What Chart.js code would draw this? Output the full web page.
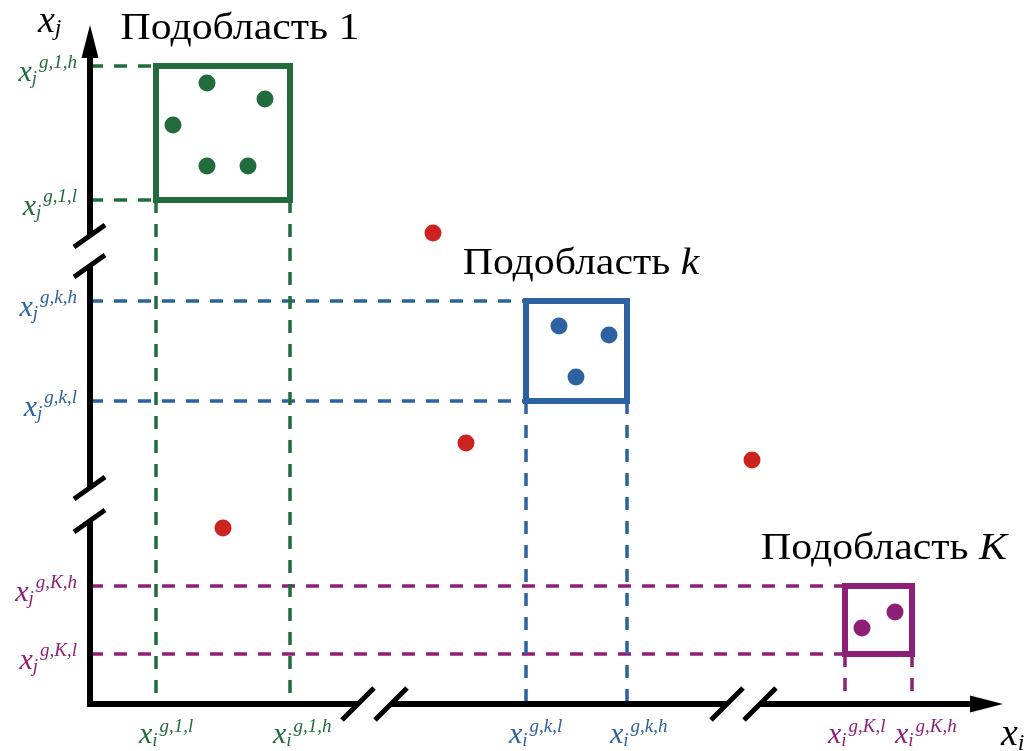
<!DOCTYPE html>
<html><head><meta charset="utf-8">
<script src="https://cdn.jsdelivr.net/npm/chart.js@4.4.1/dist/chart.umd.min.js"></script>
<style>html,body{margin:0;padding:0;background:#fff;}canvas{display:block;}</style>
</head><body>
<canvas id="c" width="1035" height="751"></canvas>
<script>
// ---------------- data (diagram units; origin = axis corner) ----------------
const titleWord   = 'Подобласть';
const regionNames = ['1', 'k', 'K'];
const boxXLow  = [6.6, 43.6, 75.5];
const boxXHigh = [20.0, 53.7, 82.2];
const boxYLow  = [50.4, 30.3, 5.0];
const boxYHigh = [63.8, 40.3, 11.8];
const region1X = [11.7, 17.5, 8.3, 11.7, 15.8];
const region1Y = [62.1, 60.5, 57.9, 53.8, 53.8];
const regionkX = [46.9, 51.9, 48.6];
const regionkY = [37.8, 36.9, 32.7];
const regionKX = [77.2, 80.5];
const regionKY = [7.6, 9.2];
const outlierX = [34.3, 37.6, 66.2, 13.3];
const outlierY = [47.1, 26.1, 24.4, 17.6];
const xTickSupLow  = ['g,1,l', 'g,k,l', 'g,K,l'];
const xTickSupHigh = ['g,1,h', 'g,k,h', 'g,K,h'];
const yTickSupLow  = ['g,1,l', 'g,k,l', 'g,K,l'];
const yTickSupHigh = ['g,1,h', 'g,k,h', 'g,K,h'];
const xAxisBreaks = [28.45, 65.35];
const yAxisBreaks = [45.3, 19.95];
const xAxisEnd = 91.3;
const yAxisEnd = 67.9;
const xAxisName = ['x', 'i'];
const yAxisName = ['x', 'j'];

// ---------------- styles ----------------
const regionColors = ['#226b3c', '#2d62a0', '#8e1f77'];
const outlierColor = '#cc2320';
const FONT = '"Liberation Serif", "Times New Roman", serif';
const titleDx = [17, 4.5, 5.5];
const titleStretch = 1.1;
const titleSize = 38;

const regionPts = [[region1X, region1Y], [regionkX, regionkY], [regionKX, regionKY]];
const datasets = [];
datasets.push({
  data: outlierX.map((x, i) => ({x, y: outlierY[i]})),
  backgroundColor: outlierColor, pointRadius: 8.5, pointBorderWidth: 0, showLine: false, order: 0
});
regionNames.forEach((n, r) => {
  const c = regionColors[r];
  const [px, py] = regionPts[r];
  datasets.push({
    data: px.map((x, i) => ({x, y: py[i]})),
    backgroundColor: c, pointRadius: 8.5, pointBorderWidth: 0, showLine: false, order: 0
  });
  const xl = boxXLow[r], xh = boxXHigh[r], yl = boxYLow[r], yh = boxYHigh[r];
  datasets.push({
    data: [{x: xl, y: yl}, {x: xl, y: yh}, {x: xh, y: yh}, {x: xh, y: yl}, {x: xl, y: yl}],
    showLine: true, borderColor: c, borderWidth: 6, pointRadius: 0, fill: false,
    borderCapStyle: 'square', borderJoinStyle: 'miter', tension: 0, order: 1
  });
  const dash = {showLine: true, borderColor: c, borderWidth: 3.5, pointRadius: 0, fill: false,
    borderDash: [13, 11], borderCapStyle: 'butt', tension: 0, order: 3};
  [yl, yh].forEach(y => datasets.push(Object.assign({data: [{x: 0, y}, {x: xl, y}]}, dash)));
  [xl, xh].forEach(x => datasets.push(Object.assign({data: [{x, y: yl}, {x, y: 0}]}, dash)));
});

function mathLabel(ctx, left, base, parts, color) {
  const [main, sub, sup, mainSize, subSize, subDy, supDy] = parts;
  ctx.fillStyle = color;
  ctx.textAlign = 'left';
  ctx.textBaseline = 'alphabetic';
  ctx.font = `italic ${mainSize}px ${FONT}`;
  ctx.fillText(main, left, base);
  let x = left + ctx.measureText(main).width;
  ctx.font = `italic ${subSize}px ${FONT}`;
  ctx.fillText(sub, x, base + subDy);
  x += ctx.measureText(sub).width + 2;
  if (sup) ctx.fillText(sup, x, base + supDy);
}
function labelWidth(ctx, parts) {
  const [main, sub, sup, mainSize, subSize] = parts;
  ctx.font = `italic ${mainSize}px ${FONT}`;
  let w = ctx.measureText(main).width;
  ctx.font = `italic ${subSize}px ${FONT}`;
  w += ctx.measureText(sub).width + 2 + (sup ? ctx.measureText(sup).width : 0);
  return w;
}

const diagramPlugin = {
  id: 'diagram',
  afterDatasetsDraw(chart) {
    const ctx = chart.ctx, X = chart.scales.x, Y = chart.scales.y;
    const ox = X.getPixelForValue(0), oy = Y.getPixelForValue(0);
    const xEnd = X.getPixelForValue(xAxisEnd), yEnd = Y.getPixelForValue(yAxisEnd);
    const gap = 16.5;
    ctx.save();
    ctx.strokeStyle = '#000'; ctx.fillStyle = '#000';
    ctx.lineWidth = 6; ctx.lineJoin = 'miter'; ctx.lineCap = 'butt';
    const xb = xAxisBreaks.map(v => X.getPixelForValue(v));
    const yb = yAxisBreaks.map(v => Y.getPixelForValue(v));
    ctx.beginPath();
    ctx.moveTo(ox, yEnd + 25); ctx.lineTo(ox, yb[0] - 15);
    ctx.moveTo(ox, yb[0] + 15); ctx.lineTo(ox, yb[1] - 16.5);
    ctx.moveTo(ox, yb[1] + 16.5); ctx.lineTo(ox, oy); ctx.lineTo(xb[0] - gap, oy);
    ctx.moveTo(xb[0] + gap, oy); ctx.lineTo(xb[1] - gap, oy);
    ctx.moveTo(xb[1] + gap, oy); ctx.lineTo(xEnd - 25, oy);
    ctx.stroke();
    // arrows
    ctx.beginPath();
    ctx.moveTo(ox, yEnd); ctx.lineTo(ox - 8.5, yEnd + 33); ctx.lineTo(ox + 8.5, yEnd + 33); ctx.closePath();
    ctx.moveTo(xEnd, oy); ctx.lineTo(xEnd - 33, oy - 8.5); ctx.lineTo(xEnd - 33, oy + 8.5); ctx.closePath();
    ctx.fill();
    // break slashes
    ctx.lineWidth = 5;
    ctx.beginPath();
    xb.forEach(c => {
      [c - gap, c + gap].forEach(cx => { ctx.moveTo(cx - 16, oy + 16); ctx.lineTo(cx + 16, oy - 16); });
    });
    yb.forEach((c, i) => {
      const g = i === 0 ? 15 : 16.5;
      [c - g, c + g].forEach(cy => { ctx.moveTo(ox - 16, cy + 11); ctx.lineTo(ox + 15, cy - 11); });
    });
    ctx.stroke();

    // axis names
    mathLabel(ctx, ox - 52, yEnd + 7, [yAxisName[0], yAxisName[1], '', 38, 24, 3, 0], '#000');
    mathLabel(ctx, xEnd - 2, oy + 41, [xAxisName[0], xAxisName[1], '', 38, 24, 5, 0], '#000');

    regionNames.forEach((n, r) => {
      const c = regionColors[r];
      [[boxXLow[r], xTickSupLow[r]], [boxXHigh[r], xTickSupHigh[r]]].forEach(([v, s]) => {
        const px = X.getPixelForValue(v);
        mathLabel(ctx, px - 17, oy + 39, ['x', 'i', s, 30, 19, 3, -11], c);
      });
      [[boxYLow[r], yTickSupLow[r]], [boxYHigh[r], yTickSupHigh[r]]].forEach(([v, s]) => {
        const py = Y.getPixelForValue(v);
        const parts = ['x', 'j', s, 30, 19, 3, -13];
        const w = labelWidth(ctx, parts);
        mathLabel(ctx, ox - 13 - w, py + 15, parts, c);
      });
      // titles
      ctx.fillStyle = '#000';
      ctx.textBaseline = 'alphabetic'; ctx.textAlign = 'left';
      const isLetter = /[a-zA-Z]/.test(n);
      ctx.font = `${titleSize}px ${FONT}`;
      const w1 = ctx.measureText(titleWord + ' ').width;
      ctx.font = `${isLetter ? 'italic ' : ''}${titleSize}px ${FONT}`;
      const w2 = ctx.measureText(n).width;
      const cx = (X.getPixelForValue(boxXLow[r]) + X.getPixelForValue(boxXHigh[r])) / 2 + titleDx[r];
      const base = Y.getPixelForValue(boxYHigh[r]) - 27.5;
      ctx.save();
      ctx.translate(cx, base);
      ctx.scale(titleStretch, 1);
      const left = -(w1 + w2) / 2;
      ctx.font = `${titleSize}px ${FONT}`;
      ctx.fillText(titleWord + ' ', left, 0);
      ctx.font = `${isLetter ? 'italic ' : ''}${titleSize}px ${FONT}`;
      ctx.fillText(n, left + w1, 0);
      ctx.restore();
    });
    ctx.restore();
  }
};

new Chart(document.getElementById('c'), {
  type: 'scatter',
  data: { datasets },
  options: {
    responsive: false,
    animation: false,
    events: [],
    layout: { padding: 0, autoPadding: false },
    plugins: { legend: { display: false }, tooltip: { enabled: false } },
    scales: {
      x: { type: 'linear', min: -9.0, max: 94.5, display: false },
      y: { type: 'linear', min: -4.7, max: 70.4, display: false }
    }
  },
  plugins: [diagramPlugin]
});
</script>
</body></html>
